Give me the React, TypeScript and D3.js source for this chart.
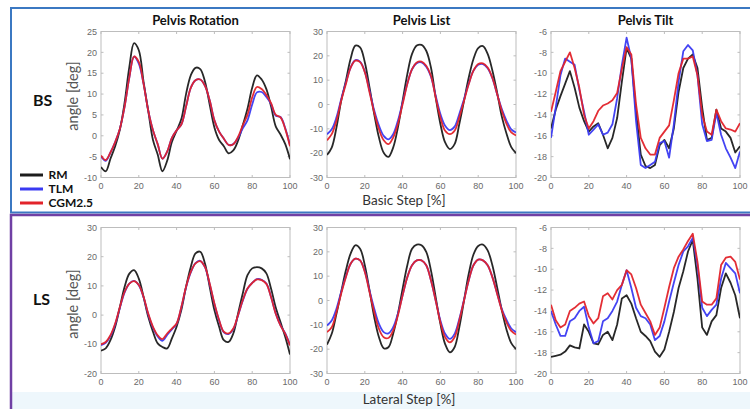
import React from 'react';
import * as d3 from 'd3';

// gait cycle, percent
const pct = [0, 2.5, 5, 7.5, 10, 12.5, 15, 17.5, 20, 22.5, 25, 27.5, 30, 32.5, 35, 37.5, 40, 42.5, 45, 47.5, 50,
  52.5, 55, 57.5, 60, 62.5, 65, 67.5, 70, 72.5, 75, 77.5, 80, 82.5, 85, 87.5, 90, 92.5, 95, 97.5, 100];
const xTicks = [0, 20, 40, 60, 80, 100];

const models = ['RM', 'TLM', 'CGM2.5'];
const colors = ['#1c1c1c', '#3a3af2', '#e2232a'];

const titles = ['Pelvis Rotation', 'Pelvis List', 'Pelvis Tilt'];
const rowLabels = ['BS', 'LS'];
const stepLabels = ['Basic Step [%]', 'Lateral Step [%]'];

// Basic Step
const bsRotRM = [-7.5, -8.5, -5.5, -2.5, 1.5, 8, 16.5, 22.2, 20.5, 13, 6, -1, -4.5, -8.5, -6, -1.5, 1.2, 4, 10, 14.5, 16.3,
  16, 13, 7.5, 2, -1, -2.5, -4.2, -3.5, -1.2, 2.5, 6.5, 11.5, 14.5, 13.5, 11.2, 7, 2.2, 0.3, -2, -5.6];
const bsRotTLM = [-5, -6, -4, -1.5, 1.7, 7, 14, 19, 17.3, 12.5, 6, 1.3, -2, -5.5, -3.8, -0.5, 1.3, 2.7, 7, 11.5, 13.3,
  13.5, 12, 8.5, 3.7, 1, -0.7, -2.2, -2, -0.5, 1.8, 3.7, 7.5, 10.4, 10.5, 9.3, 7.6, 4.8, 4.5, 1.8, -2.3];
const bsRotCGM = [-4.7, -5.8, -4, -1.5, 1.7, 7, 14, 19, 17.7, 12.5, 6, 1.3, -2, -5.5, -3.8, -0.5, 1.3, 2.7, 7, 11.5, 13.3,
  13.5, 12, 8.5, 3.7, 1, -0.7, -2.2, -2, -0.3, 2.5, 5, 9.2, 11.7, 11.2, 9.8, 7.8, 5, 4.4, 1.6, -2.5];

const bsListRM = [-20.7, -17.7, -9.5, 1.5, 9.8, 18.8, 24.2, 23.5, 17.4, 7, -4, -13.6, -19.8, -21.5, -17.7, -9.5, 1.5, 12.5, 20.8, 24.2, 24.5,
  22.1, 15.2, 2.9, -8, -15.6, -18.3, -16.3, -8, 1.5, 11.1, 18.7, 23.2, 24, 20.8, 14, 5, -5, -12, -17.5, -20];
const bsListTLM = [-12.2, -10.2, -5.3, 2.2, 9, 15.2, 18.2, 17.6, 13.5, 5.7, -2.5, -8.7, -12.9, -14.3, -12.2, -6.7, 0.8, 8.6, 14.5, 17, 17.3,
  15.5, 11.4, 3.6, -3.9, -8.7, -10.5, -9.1, -3.9, 2.2, 8.6, 13.9, 16.3, 16.6, 14.9, 10.8, 4.3, -1.9, -6.7, -10.2, -11.5];
const bsListCGM = [-14.7, -12.2, -6.7, 1.5, 8.4, 15.2, 18, 17.4, 13.3, 5, -3.3, -10.2, -14.7, -16.3, -13.6, -8, 0.1, 8.4, 14.5, 17.3, 17.6,
  15.9, 11.8, 2.9, -5.3, -10.8, -12.2, -10.8, -5.3, 1.5, 8.4, 13.9, 16.6, 16.9, 15.2, 11, 4.3, -2.6, -8, -11.5, -12.7];

const bsTiltRM = [-15.3, -13.5, -12.2, -11, -9.8, -11.4, -13.3, -14.6, -15.6, -15.1, -14.8, -15.9, -17.2, -16.2, -14.3, -10.8, -7.6, -8.6, -13.7, -17.8, -18.9,
  -19.1, -18.8, -16.9, -16.4, -17.2, -15.3, -11.8, -9.5, -8.6, -8.2, -9.5, -13.3, -16.4, -16.2, -13.5, -15.3, -15.6, -16.2, -17.6, -17];
const bsTiltTLM = [-16.2, -13.3, -10.2, -8.6, -8.9, -9.2, -11.6, -13.7, -15.9, -15.4, -14.9, -15.9, -15.7, -14.9, -12.4, -9.2, -6.6, -8.6, -14.6, -18.8, -19.1,
  -18.8, -18.5, -16.7, -16.5, -18.1, -14.9, -10.8, -7.9, -7.3, -7.8, -10.2, -14.9, -16.5, -16.4, -13.8, -15.9, -17.2, -18.1, -19.1, -17.5];
const bsTiltCGM = [-13.7, -11.8, -9.8, -8.9, -8, -9.5, -11.4, -14, -15.3, -14.6, -13.6, -13.1, -12.9, -12.6, -11.9, -9.6, -7.5, -8.2, -13, -16.2, -17.2,
  -17.8, -17.8, -16.2, -15.6, -15, -12.6, -10, -8.6, -8.6, -8.4, -10.2, -14, -15.6, -15.9, -13.5, -14.6, -15.3, -15.4, -15.6, -14.8];

// Lateral Step
const lsRotRM = [-12.2, -11.4, -8.6, -4, 2.8, 9.7, 14.2, 15.4, 12.5, 6.3, -0.6, -5.7, -9.7, -10.9, -11.4, -8, -4, 1.7, 9.7, 16.5, 21.1,
  21.7, 17.7, 9.7, 1.7, -4, -8.6, -9.2, -6.3, 0.5, 7.4, 13.7, 16, 16.4, 16, 14.3, 9, 2.5, -2.5, -7.5, -13.5];
const lsRotTLM = [-10.3, -9.5, -7.2, -3.2, 2.5, 7.8, 10.8, 11.7, 10.2, 6.1, 0.2, -4.3, -7.3, -8.8, -6.8, -4.9, -3, 2.6, 9.5, 14.6, 17.8,
  18.6, 16.4, 10.6, 3.8, -1.9, -5.9, -6.5, -4.8, -0.2, 4.9, 9, 11, 12.3, 12.1, 10.8, 6.2, 0.5, -3.5, -6.3, -10.2];
const lsRotCGM = [-10, -9.2, -6.9, -2.9, 2.8, 8, 10.8, 11.6, 10.3, 6.3, 0.5, -4, -6.9, -8.2, -6.3, -4.6, -2.9, 2.8, 9.7, 14.8, 17.7,
  18.5, 16.5, 10.8, 4, -1.7, -5.7, -6.3, -4.6, 0, 5.1, 9.1, 11, 12.2, 12, 10.7, 6.1, 0.4, -3.6, -6.4, -10.4];

const lsListRM = [-18.1, -13.7, -5.5, 3.5, 12.4, 19.3, 22.7, 21.3, 14.5, 4.1, -6.9, -15.1, -19.6, -19.2, -13.7, -5.5, 4.8, 14.5, 21.3, 23, 22.7,
  20, 12.4, 1.4, -9.6, -17.9, -21.3, -19.2, -11, 0, 11, 18.9, 22.4, 23, 20.6, 14.5, 5.5, -4, -12, -17.5, -20];
const lsListTLM = [-10.3, -8.2, -3.4, 3.5, 9.9, 15.1, 17.2, 16.5, 12, 4.1, -3.4, -9.6, -13, -13.5, -11, -5.5, 2.1, 9.6, 14.5, 16.5, 16.5,
  14.5, 8.3, 0, -8.2, -13.7, -15.8, -13.7, -7.6, 0.3, 8.3, 14.5, 16.8, 16.5, 14.5, 9.6, 3, -3.5, -8, -11.5, -13];
const lsListCGM = [-13, -11, -4.8, 2.8, 9.6, 15.1, 17.2, 16.5, 11.7, 3.5, -4.8, -11.7, -15.1, -15.4, -12.4, -6.2, 2.1, 9.6, 14.5, 16.5, 16.5,
  14.5, 8.3, 0, -8.9, -15.1, -17.2, -15.1, -8.2, 0, 8.3, 14.5, 16.8, 16.5, 14.5, 9.6, 2.8, -4, -9, -12.5, -14];

const lsTiltRM = [-18.4, -18.3, -18.2, -17.9, -17.3, -17.5, -17.6, -15.3, -16, -17.1, -17.2, -16.3, -16, -16.8, -15.3, -12.8, -12.5, -13.3, -14.7, -16, -16.4,
  -16.9, -17.9, -18.4, -17.7, -16, -14.1, -11.8, -10.2, -8.3, -7.2, -10.9, -15.6, -16.3, -15, -14.4, -11.8, -10.4, -11.3, -12.5, -14.7];
const lsTiltTLM = [-14, -15.3, -16.4, -16.4, -15, -14.7, -14, -13.6, -15.6, -17.1, -16.9, -15, -14.7, -14, -13.1, -11.5, -10.1, -11.8, -13.7, -14.5, -14.7,
  -15.3, -16.8, -16.4, -15, -13.1, -11.3, -9.6, -8.3, -7.8, -7, -9.6, -13.7, -14.5, -13.9, -13.4, -10.9, -9.4, -9.9, -10.4, -12.3];
const lsTiltCGM = [-13.4, -14.9, -15.6, -15.3, -14, -13.7, -13.3, -13.1, -14.5, -15.2, -14.7, -12.6, -12.3, -12.9, -12, -11.5, -10.1, -10.5, -11.8, -13.4, -14.2,
  -15, -16.3, -15.6, -13.7, -11.7, -9.9, -8.8, -8.1, -7.3, -6.6, -9.3, -13.1, -13.4, -13.4, -12.8, -9.6, -8.9, -8.8, -9.3, -11];

const rotTicksBS = [-10, -5, 0, 5, 10, 15, 20, 25];
const rotTicksLS = [-20, -10, 0, 10, 20, 30];
const listTicks = [-30, -20, -10, 0, 10, 20, 30];
const tiltTicks = [-20, -18, -16, -14, -12, -10, -8, -6];

const panels = [
  { row: 0, col: 0, ticks: rotTicksBS, series: [bsRotRM, bsRotTLM, bsRotCGM], smooth: true },
  { row: 0, col: 1, ticks: listTicks, series: [bsListRM, bsListTLM, bsListCGM], smooth: true },
  { row: 0, col: 2, ticks: tiltTicks, series: [bsTiltRM, bsTiltTLM, bsTiltCGM], smooth: false },
  { row: 1, col: 0, ticks: rotTicksLS, series: [lsRotRM, lsRotTLM, lsRotCGM], smooth: true },
  { row: 1, col: 1, ticks: listTicks, series: [lsListRM, lsListTLM, lsListCGM], smooth: true },
  { row: 1, col: 2, ticks: tiltTicks, series: [lsTiltRM, lsTiltTLM, lsTiltCGM], smooth: false },
];

const colX = [101, 327, 551];
const rowY = [31.5, 227.5];
const plotW = 189;
const plotH = 146;

const tickFont = '"Liberation Sans", Arial, sans-serif';
const textFont = 'Lato, "Open Sans", sans-serif';

function Panel({ p, idx }) {
  const x0 = colX[p.col];
  const y0 = rowY[p.row];
  const x = d3.scaleLinear().domain([0, 100]).range([x0, x0 + plotW]);
  const y = d3.scaleLinear().domain(d3.extent(p.ticks)).range([y0 + plotH, y0]);
  const line = d3.line()
    .x((d, i) => x(pct[i]))
    .y(d => y(d))
    .curve(p.smooth ? d3.curveCatmullRom : d3.curveLinear);
  const tl = 2.5;
  return (
    <g>
      <clipPath id={`clip${idx}`}>
        <rect x={x0} y={y0} width={plotW} height={plotH} />
      </clipPath>
      <rect x={x0} y={y0} width={plotW} height={plotH} fill="#fff" stroke="#bdbdbd" strokeWidth={1} />
      {p.ticks.map(t => (
        <g key={'y' + t}>
          <line x1={x0} x2={x0 + tl} y1={y(t)} y2={y(t)} stroke="#bdbdbd" />
          <line x1={x0 + plotW - tl} x2={x0 + plotW} y1={y(t)} y2={y(t)} stroke="#bdbdbd" />
          <text x={x0 - 4} y={y(t)} dy="0.35em" textAnchor="end" fontSize={9} fill="#6a6a6a" fontFamily={tickFont}>{t}</text>
        </g>
      ))}
      {xTicks.map(t => (
        <g key={'x' + t}>
          <line x1={x(t)} x2={x(t)} y1={y0 + plotH} y2={y0 + plotH - tl} stroke="#bdbdbd" />
          <line x1={x(t)} x2={x(t)} y1={y0} y2={y0 + tl} stroke="#bdbdbd" />
          <text x={x(t)} y={y0 + plotH + 11} textAnchor="middle" fontSize={9} fill="#6a6a6a" fontFamily={tickFont}>{t}</text>
        </g>
      ))}
      <g clipPath={`url(#clip${idx})`}>
        {p.series.map((s, i) => (
          <path key={i} d={line(s)} fill="none" stroke={colors[i]} strokeWidth={1.8} strokeLinejoin="round" opacity={0.95} />
        ))}
      </g>
    </g>
  );
}

export default function App() {
  return (
    <svg width={750} height={409} style={{ position: 'absolute', left: 0, top: 0, background: '#fff' }}>
      <rect x={12} y={392} width={740} height={20} fill="#eef7fc" />
      <rect x={11} y={8} width={760} height={204.5} fill="none" stroke="#3b78c2" strokeWidth={2} />
      <rect x={11} y={215} width={760} height={210} fill="none" stroke="#7040a4" strokeWidth={2.5} />

      {titles.map((t, i) => (
        <text key={t} x={colX[i] + plotW / 2} y={25} textAnchor="middle" fontSize={13} fontWeight="bold" fill="#111" fontFamily={textFont}>{t}</text>
      ))}

      {rowLabels.map((t, r) => (
        <g key={t}>
          <text x={33} y={r === 0 ? 105.5 : 305} fontSize={16} fontWeight="bold" fill="#111" fontFamily={textFont}>{t}</text>
          <text transform={`translate(78,${r === 0 ? 96 : 304}) rotate(-90)`} textAnchor="middle" fontSize={14.5} fill="#555" fontFamily={textFont}>angle [deg]</text>
        </g>
      ))}

      {panels.map((p, i) => <Panel key={i} p={p} idx={i} />)}

      <text x={404} y={205} textAnchor="middle" fontSize={13.5} fill="#333" fontFamily={textFont}>{stepLabels[0]}</text>
      <text x={409} y={404} textAnchor="middle" fontSize={13.5} fill="#333" fontFamily={textFont}>{stepLabels[1]}</text>

      {models.map((m, i) => (
        <g key={m}>
          <line x1={20} x2={43} y1={175 + i * 14} y2={175 + i * 14} stroke={colors[i]} strokeWidth={3} />
          <text x={48.5} y={179 + i * 14} fontSize={12} fontWeight="bold" fill="#111" fontFamily={textFont}>{m}</text>
        </g>
      ))}
    </svg>
  );
}
